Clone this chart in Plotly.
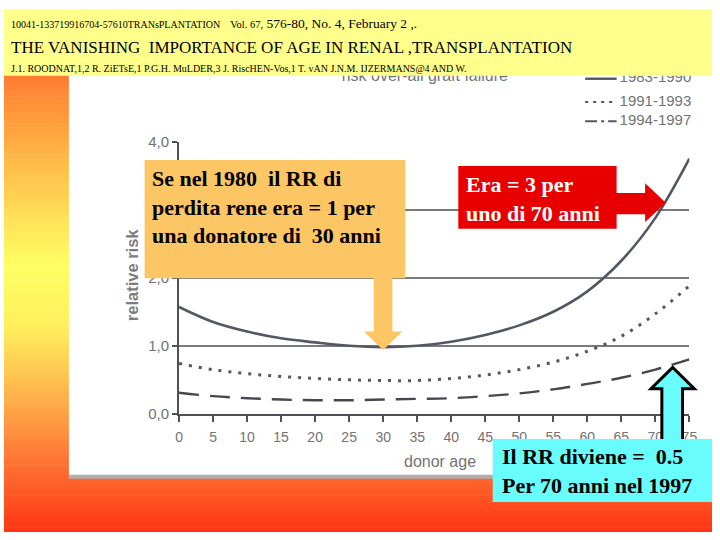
import plotly.graph_objects as go

W, H = 720, 540

# ---------------- data ----------------
donor_age = [0, 5, 10, 15, 20, 25, 30, 35, 40, 45, 50, 55, 60, 65, 70, 75]
rr_1983_1990 = [1.57, 1.35, 1.21, 1.11, 1.05, 1.00, 0.98, 1.00, 1.06, 1.16, 1.30, 1.50, 1.80, 2.25, 2.88, 3.75]
rr_1991_1993 = [0.74, 0.65, 0.59, 0.55, 0.52, 0.50, 0.49, 0.49, 0.52, 0.57, 0.65, 0.76, 0.92, 1.14, 1.47, 1.88]
rr_1994_1997 = [0.31, 0.26, 0.23, 0.21, 0.20, 0.20, 0.21, 0.22, 0.23, 0.26, 0.30, 0.36, 0.44, 0.53, 0.65, 0.80]
series_names = ["1983-1990", "1991-1993", "1994-1997"]
x_tick_vals = [0, 5, 10, 15, 20, 25, 30, 35, 40, 45, 50, 55, 60, 65, 70, 75]
y_tick_vals = [0, 1, 2, 3, 4]
y_tick_text = ["0,0", "1,0", "2,0", "3,0", "4,0"]

chart_title = "risk over-all graft failure"
x_title = "donor age"
y_title = "relative risk"

header_1a = "10041-133719916704-57610TRANsPLANTATION"
header_1b = "Vol. 67,"
header_1c = "576-80, No. 4, February 2 ,."
header_2 = "THE VANISHING  IMPORTANCE OF AGE IN RENAL ,TRANSPLANTATION"
header_3 = "J.1. ROODNAT,1,2 R. ZiETsE,1 P.G.H. MuLDER,3 J. RiscHEN-Vos,1 T. vAN J.N.M. IJZERMANS@4 AND W."

note_orange = "Se nel 1980  il RR di<br>perdita rene era = 1 per<br>una donatore di  30 anni"
note_red = "Era = 3 per<br>uno di 70 anni"
note_cyan = "Il RR diviene =  0.5<br>Per 70 anni nel 1997"


def X(p):
    return p / W


def Y(p):
    return 1 - p / H


GRAY = "rgb(84,88,98)"
TXT_GRAY = "rgb(115,115,115)"

fig = go.Figure()

# ---------------- data traces ----------------
fig.add_trace(go.Scatter(x=donor_age, y=rr_1983_1990, mode="lines", name=series_names[0],
                         line=dict(color=GRAY, width=2.6, shape="spline")))
fig.add_trace(go.Scatter(x=donor_age, y=rr_1991_1993, mode="lines", name=series_names[1],
                         line=dict(color=GRAY, width=3, dash="3px,7px", shape="spline")))
fig.add_trace(go.Scatter(x=donor_age, y=rr_1994_1997, mode="lines", name=series_names[2],
                         line=dict(color="rgb(70,72,80)", width=2.4, dash="20px,11px", shape="spline")))

# ---------------- decorative overlay (pixel space) ----------------
leg_rows = [72, 96, 116]
leg_dash = ["solid", "3px,5px", "12px,4px,3px,4px"]
for i, name in enumerate(series_names):
    fig.add_trace(go.Scatter(x=[591, 623], y=[leg_rows[i], leg_rows[i]], mode="lines",
                             line=dict(color=GRAY, width=2.4 if i == 0 else 2, dash=leg_dash[i]),
                             xaxis="x2", yaxis="y2", hoverinfo="skip", cliponaxis=False))
fig.add_trace(go.Scatter(x=[626, 626, 626], y=leg_rows, mode="text", text=series_names,
                         textposition="middle right",
                         textfont=dict(family="Liberation Sans, Arial", size=15, color=TXT_GRAY),
                         xaxis="x2", yaxis="y2", hoverinfo="skip", cliponaxis=False))
fig.add_trace(go.Scatter(x=[428], y=[70], mode="text", text=[chart_title],
                         textposition="middle center",
                         textfont=dict(family="Liberation Sans, Arial", size=16, color=TXT_GRAY),
                         xaxis="x2", yaxis="y2", hoverinfo="skip", cliponaxis=False))

# ---------------- background shapes ----------------
stops = [(0, (255, 120, 50)), (71, (255, 125, 50)), (170, (255, 195, 75)), (265, (255, 255, 100)),
         (330, (255, 238, 92)), (400, (255, 178, 75)), (460, (255, 122, 55)), (500, (255, 88, 36)),
         (540, (255, 52, 20))]


def grad(y):
    for (y0, c0), (y1, c1) in zip(stops[:-1], stops[1:]):
        if y0 <= y <= y1:
            t = (y - y0) / (y1 - y0) if y1 > y0 else 0
            return "rgb(%d,%d,%d)" % tuple(round(a + (b - a) * t) for a, b in zip(c0, c1))
    return "rgb(255,52,20)"


shapes = []
step = 4
for y0 in range(66, 540, step):
    shapes.append(dict(type="rect", xref="paper", yref="paper", x0=0, x1=1,
                       y0=Y(min(y0 + step + 0.6, 540)), y1=Y(y0), fillcolor=grad(y0 + step / 2),
                       line=dict(width=0), layer="below"))
# white scanned chart area
shapes.append(dict(type="rect", xref="paper", yref="paper", x0=X(66), x1=1, y0=Y(482), y1=Y(68),
                   fillcolor="white", line=dict(width=0), layer="below"))
shapes.append(dict(type="rect", xref="paper", yref="paper", x0=X(66), x1=1, y0=Y(485), y1=Y(481),
                   fillcolor="rgb(175,175,178)", line=dict(width=0), layer="below"))
# header band (above traces so it hides the top of the scanned title)
shapes.append(dict(type="rect", xref="paper", yref="paper", x0=0, x1=1, y0=Y(69), y1=1,
                   fillcolor="rgb(255,255,140)", line=dict(width=0), layer="above"))

# orange note box + down arrow
ORANGE = "rgb(252,198,100)"
shapes.append(dict(type="path", xref="paper", yref="paper", layer="above",
                   path="M%f,%f L%f,%f L%f,%f L%f,%f L%f,%f L%f,%f L%f,%f Z" % (
                       X(376), Y(276), X(395), Y(276), X(395), Y(333), X(405), Y(333),
                       X(385.5), Y(352), X(366), Y(333), X(376), Y(333)),
                   fillcolor=ORANGE, line=dict(width=0)))
shapes.append(dict(type="rect", xref="paper", yref="paper", x0=X(143), x1=X(408), y0=Y(278), y1=Y(156),
                   fillcolor=ORANGE, line=dict(width=0), layer="above"))

# red note box + right arrow
RED = "rgb(232,0,0)"
shapes.append(dict(type="path", xref="paper", yref="paper", layer="above",
                   path="M%f,%f L%f,%f L%f,%f L%f,%f L%f,%f L%f,%f L%f,%f Z" % (
                       X(620), Y(190), X(652), Y(190), X(652), Y(180), X(673), Y(200),
                       X(652), Y(220), X(652), Y(212), X(620), Y(212)),
                   fillcolor=RED, line=dict(width=0)))
shapes.append(dict(type="rect", xref="paper", yref="paper", x0=X(462), x1=X(623), y0=Y(227), y1=Y(162),
                   fillcolor=RED, line=dict(width=0), layer="above"))

# cyan note box + up arrow
CYAN = "rgb(104,252,252)"
shapes.append(dict(type="path", xref="paper", yref="paper", layer="above",
                   path="M%f,%f L%f,%f L%f,%f L%f,%f L%f,%f L%f,%f L%f,%f Z" % (
                       X(669), Y(446), X(669), Y(392), X(658), Y(392), X(680), Y(370),
                       X(702), Y(392), X(690), Y(392), X(690), Y(446)),
                   fillcolor=CYAN, line=dict(width=3, color="black")))
shapes.append(dict(type="rect", xref="paper", yref="paper", x0=X(497), x1=1, y0=Y(509), y1=Y(444),
                   fillcolor=CYAN, line=dict(width=0), layer="above"))

# ---------------- annotations ----------------
SERIF = "Liberation Serif, Times New Roman, serif"
SANS = "Liberation Sans, Arial, sans-serif"
ann = []
ann.append(dict(xref="paper", yref="paper", x=X(5), y=Y(15), xanchor="left", yanchor="middle",
                showarrow=False,
                text=("<span style='font-size:10px'>%s</span>&nbsp;&nbsp;&nbsp;"
                      "<span style='font-size:10.5px'>%s</span> %s") % (header_1a, header_1b, header_1c),
                font=dict(family=SERIF, size=13.5, color="black")))
ann.append(dict(xref="paper", yref="paper", x=X(5), y=Y(40), xanchor="left", yanchor="middle",
                showarrow=False, text=header_2, font=dict(family=SERIF, size=17, color="black")))
ann.append(dict(xref="paper", yref="paper", x=X(5), y=Y(61), xanchor="left", yanchor="middle",
                showarrow=False, text=header_3, font=dict(family=SERIF, size=10, color="black")))

ann.append(dict(xref="paper", yref="paper", x=X(148), y=Y(204), xanchor="left", yanchor="middle",
                align="left", showarrow=False, text="<b>%s</b>" % note_orange,
                font=dict(family=SERIF, size=22, color="black")))
ann.append(dict(xref="paper", yref="paper", x=X(468), y=Y(196), xanchor="left", yanchor="middle",
                align="left", showarrow=False, text="<b>%s</b>" % note_red,
                font=dict(family=SERIF, size=22, color="white")))
ann.append(dict(xref="paper", yref="paper", x=X(504), y=Y(477), xanchor="left", yanchor="middle",
                align="left", showarrow=False, text="<b>%s</b>" % note_cyan,
                font=dict(family=SERIF, size=22, color="black")))

ann.append(dict(xref="paper", yref="paper", x=X(131), y=Y(274), xanchor="center", yanchor="middle",
                textangle=-90, showarrow=False, text="<b>%s</b>" % y_title,
                font=dict(family=SANS, size=16.5, color="rgb(125,125,125)")))
ann.append(dict(xref="paper", yref="paper", x=X(443), y=Y(467), xanchor="center", yanchor="middle",
                showarrow=False, text=x_title, font=dict(family=SANS, size=16, color=TXT_GRAY)))

fig.update_layout(
    width=W, height=H, margin=dict(l=0, r=0, t=0, b=0),
    paper_bgcolor="white", plot_bgcolor="rgba(0,0,0,0)",
    showlegend=False,
    shapes=shapes, annotations=ann,
    xaxis=dict(domain=[X(178), X(697)], range=[0, 75], tickvals=x_tick_vals,
               showgrid=False, zeroline=False, showline=True, linecolor="rgb(80,80,85)", linewidth=2,
               ticks="outside", ticklen=6, tickwidth=1.5, tickcolor="rgb(80,80,85)",
               tickfont=dict(family=SANS, size=14, color=TXT_GRAY), ticklabelstandoff=3,
               fixedrange=True),
    yaxis=dict(domain=[Y(418), Y(137)], range=[0, 4], tickvals=y_tick_vals, ticktext=y_tick_text,
               showgrid=True, gridcolor="rgb(120,122,128)", gridwidth=1.5,
               zeroline=False, showline=True, linecolor="rgb(80,80,85)", linewidth=2,
               ticks="outside", ticklen=5, tickwidth=1.5, tickcolor="rgb(80,80,85)",
               tickfont=dict(family=SANS, size=15, color=TXT_GRAY), fixedrange=True),
    xaxis2=dict(domain=[0, 1], range=[0, W], visible=False, anchor="y2", fixedrange=True),
    yaxis2=dict(domain=[0, 1], range=[H, 0], visible=False, anchor="x2", fixedrange=True),
)

fig.write_html("out.html",
               post_script="document.body.style.margin='0';document.body.style.padding='0';"
                           "document.documentElement.style.overflow='hidden';")
